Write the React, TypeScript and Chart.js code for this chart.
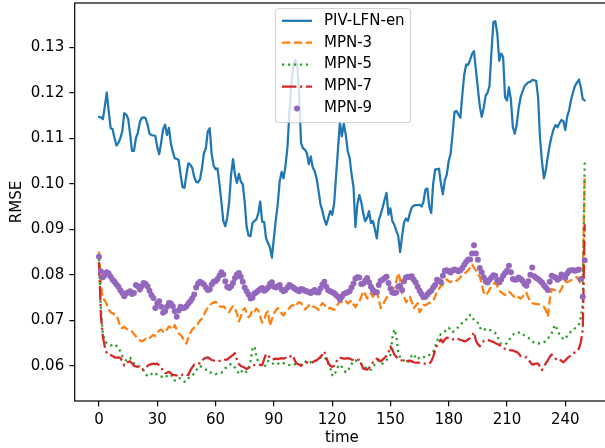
import React, { useEffect, useRef } from "react";
import { Chart, registerables } from "chart.js";

Chart.register(...registerables);

// ---- data ----
const pivLfnEn = [
  0.1147, 0.1146, 0.1142, 0.1170, 0.1200, 0.1160, 0.1122, 0.1120, 0.1100, 0.1084,
  0.1090, 0.1100, 0.1115, 0.1155, 0.1152, 0.1143, 0.1110, 0.1072, 0.1072, 0.1100,
  0.1112, 0.1135, 0.1145, 0.1146, 0.1144, 0.1130, 0.1110, 0.1107, 0.1106, 0.1105,
  0.1080, 0.1065, 0.1090, 0.1120, 0.1130, 0.1107, 0.1123, 0.1089, 0.1070, 0.1056,
  0.1055, 0.1052, 0.1020, 0.0993, 0.0991, 0.1020, 0.1045, 0.1042, 0.1035, 0.1015,
  0.1004, 0.1003, 0.1010, 0.1034, 0.1067, 0.1078, 0.1115, 0.1122, 0.1065, 0.1040,
  0.1032, 0.1034, 0.1000, 0.0960, 0.0918, 0.0907, 0.0925, 0.0960, 0.1020, 0.1054,
  0.1020, 0.1002, 0.1022, 0.1005, 0.0999, 0.0960, 0.0905, 0.0886, 0.0885, 0.0914,
  0.0918, 0.0922, 0.0935, 0.0961, 0.0917, 0.0916, 0.0880, 0.0870, 0.0860, 0.0838,
  0.0880, 0.0920, 0.0955, 0.1005, 0.1026, 0.1012, 0.1040, 0.1080, 0.1155, 0.1220,
  0.1258, 0.1272, 0.1262, 0.1200, 0.1090, 0.1078, 0.1075, 0.1068, 0.1043, 0.1060,
  0.1036, 0.1028, 0.1012, 0.0985, 0.0955, 0.0940, 0.0922, 0.0910, 0.0925, 0.0940,
  0.0932, 0.0955, 0.1015, 0.1075, 0.1135, 0.1104, 0.1132, 0.1108, 0.1072, 0.1057,
  0.1021, 0.0993, 0.0905, 0.0955, 0.0975, 0.0960, 0.0935, 0.0918, 0.0925, 0.0940,
  0.0914, 0.0918, 0.0900, 0.0880, 0.0920, 0.0933, 0.0948, 0.0965, 0.0980, 0.0932,
  0.0946, 0.0918, 0.0910, 0.0897, 0.0886, 0.0850, 0.0885, 0.0915, 0.0924, 0.0918,
  0.0935, 0.0948, 0.0952, 0.0953, 0.0953, 0.0954, 0.0950, 0.0960, 0.0987, 0.0990,
  0.0950, 0.0936, 0.1000, 0.1031, 0.1032, 0.1033, 0.1000, 0.0977, 0.1008, 0.1020,
  0.1050, 0.1066, 0.1110, 0.1158, 0.1160, 0.1152, 0.1145, 0.1195, 0.1240, 0.1262,
  0.1261, 0.1272, 0.1285, 0.1291, 0.1250, 0.1210, 0.1170, 0.1147, 0.1166, 0.1193,
  0.1200, 0.1215, 0.1290, 0.1355, 0.1357, 0.1330, 0.1270, 0.1286, 0.1279, 0.1190,
  0.1183, 0.1212, 0.1185, 0.1125, 0.1110, 0.1130, 0.1166, 0.1190, 0.1203, 0.1214,
  0.1219, 0.1223, 0.1224, 0.1228, 0.1227, 0.1226, 0.1190, 0.1100, 0.1049, 0.1012,
  0.1030, 0.1060, 0.1085, 0.1105, 0.1120, 0.1129, 0.1124, 0.1133, 0.1140, 0.1138,
  0.1118, 0.1148, 0.1162, 0.1185, 0.1201, 0.1215, 0.1222, 0.1229, 0.1212, 0.1186,
  0.1183,
];

const mpn3 = [
  0.0851, 0.0775, 0.0748, 0.0744, 0.0735, 0.0724, 0.0718, 0.0716, 0.0713, 0.0712,
  0.0700, 0.0684, 0.0683, 0.0686, 0.0682, 0.0680, 0.0678, 0.0676, 0.0670, 0.0665,
  0.0661, 0.0657, 0.0654, 0.0656, 0.0660, 0.0658, 0.0661, 0.0665, 0.0668, 0.0666,
  0.0672, 0.0678, 0.0680, 0.0675, 0.0673, 0.0680, 0.0687, 0.0684, 0.0680, 0.0690,
  0.0680, 0.0672, 0.0668, 0.0662, 0.0655, 0.0649, 0.0662, 0.0672, 0.0680, 0.0684,
  0.0687, 0.0693, 0.0700, 0.0704, 0.0712, 0.0722, 0.0727, 0.0733, 0.0737, 0.0739,
  0.0741, 0.0738, 0.0732, 0.0729, 0.0731, 0.0727, 0.0722, 0.0718, 0.0726, 0.0731,
  0.0726, 0.0715, 0.0698, 0.0708, 0.0722, 0.0727, 0.0717, 0.0707, 0.0712, 0.0723,
  0.0720, 0.0726, 0.0722, 0.0708, 0.0695, 0.0700, 0.0715, 0.0720, 0.0688, 0.0702,
  0.0715, 0.0722, 0.0727, 0.0723, 0.0715, 0.0711, 0.0718, 0.0724, 0.0727, 0.0732,
  0.0734, 0.0730, 0.0736, 0.0740, 0.0738, 0.0730, 0.0724, 0.0728, 0.0733, 0.0736,
  0.0731, 0.0729, 0.0727, 0.0723, 0.0732, 0.0738, 0.0734, 0.0728, 0.0725, 0.0728,
  0.0725, 0.0723, 0.0728, 0.0736, 0.0742, 0.0740, 0.0738, 0.0742, 0.0737, 0.0740,
  0.0744, 0.0735, 0.0729, 0.0738, 0.0742, 0.0752, 0.0764, 0.0758, 0.0748, 0.0755,
  0.0760, 0.0752, 0.0760, 0.0765, 0.0745, 0.0727, 0.0733, 0.0742, 0.0750, 0.0754,
  0.0760, 0.0766, 0.0772, 0.0785, 0.0804, 0.0790, 0.0760, 0.0752, 0.0740, 0.0745,
  0.0752, 0.0740, 0.0727, 0.0732, 0.0738, 0.0718, 0.0725, 0.0734, 0.0733, 0.0736,
  0.0738, 0.0741, 0.0743, 0.0752, 0.0765, 0.0770, 0.0776, 0.0778, 0.0785, 0.0790,
  0.0786, 0.0784, 0.0787, 0.0785, 0.0787, 0.0790, 0.0795, 0.0799, 0.0802, 0.0806,
  0.0810, 0.0816, 0.0823, 0.0816, 0.0810, 0.0802, 0.0796, 0.0780, 0.0762, 0.0755,
  0.0760, 0.0768, 0.0775, 0.0780, 0.0783, 0.0775, 0.0765, 0.0762, 0.0758, 0.0756,
  0.0760, 0.0763, 0.0760, 0.0754, 0.0752, 0.0755, 0.0750, 0.0748, 0.0752, 0.0758,
  0.0761, 0.0750, 0.0742, 0.0738, 0.0737, 0.0736, 0.0736, 0.0734, 0.0731, 0.0730,
  0.0722, 0.0708, 0.0745, 0.0769, 0.0767, 0.0766, 0.0765, 0.0762, 0.0769, 0.0778,
  0.0785, 0.0784, 0.0786, 0.0788, 0.0790, 0.0793, 0.0795, 0.0788, 0.0780, 0.0787,
  0.1020,
];

const mpn5 = [
  0.0835, 0.0720, 0.0672, 0.0655, 0.0650, 0.0647, 0.0645, 0.0646, 0.0648, 0.0644,
  0.0640, 0.0632, 0.0622, 0.0614, 0.0612, 0.0616, 0.0618, 0.0612, 0.0606, 0.0602,
  0.0600, 0.0598, 0.0593, 0.0590, 0.0582, 0.0578, 0.0578, 0.0582, 0.0586, 0.0584,
  0.0580, 0.0578, 0.0577, 0.0575, 0.0574, 0.0578, 0.0582, 0.0580, 0.0574, 0.0568,
  0.0570, 0.0574, 0.0572, 0.0568, 0.0565, 0.0567, 0.0573, 0.0576, 0.0578, 0.0584,
  0.0590, 0.0596, 0.0600, 0.0597, 0.0594, 0.0592, 0.0588, 0.0585, 0.0586, 0.0585,
  0.0582, 0.0583, 0.0585, 0.0585, 0.0589, 0.0595, 0.0598, 0.0602, 0.0604, 0.0603,
  0.0596, 0.0589, 0.0584, 0.0590, 0.0586, 0.0583, 0.0588, 0.0592, 0.0610, 0.0638,
  0.0643, 0.0622, 0.0608, 0.0604, 0.0599, 0.0597, 0.0604, 0.0611, 0.0607, 0.0604,
  0.0606, 0.0608, 0.0606, 0.0603, 0.0604, 0.0606, 0.0605, 0.0604, 0.0602, 0.0601,
  0.0603, 0.0604, 0.0603, 0.0601, 0.0603, 0.0605, 0.0608, 0.0612, 0.0611, 0.0608,
  0.0607, 0.0610, 0.0613, 0.0614, 0.0618, 0.0621, 0.0619, 0.0614, 0.0605, 0.0596,
  0.0580, 0.0578, 0.0589, 0.0598, 0.0603, 0.0598, 0.0592, 0.0586, 0.0588, 0.0597,
  0.0604, 0.0612, 0.0612, 0.0610, 0.0607, 0.0605, 0.0601, 0.0597, 0.0594, 0.0591,
  0.0592, 0.0598, 0.0604, 0.0608, 0.0613, 0.0610, 0.0605, 0.0608, 0.0613, 0.0618,
  0.0624, 0.0662, 0.0680, 0.0668, 0.0630, 0.0618, 0.0614, 0.0612, 0.0609, 0.0607,
  0.0614, 0.0623, 0.0626, 0.0618, 0.0614, 0.0619, 0.0621, 0.0620, 0.0619, 0.0621,
  0.0624, 0.0627, 0.0630, 0.0642, 0.0655, 0.0664, 0.0670, 0.0672, 0.0676, 0.0680,
  0.0684, 0.0679, 0.0674, 0.0678, 0.0683, 0.0685, 0.0690, 0.0695, 0.0698, 0.0702,
  0.0704, 0.0712, 0.0710, 0.0700, 0.0697, 0.0695, 0.0685, 0.0678, 0.0679, 0.0681,
  0.0682, 0.0679, 0.0678, 0.0676, 0.0672, 0.0667, 0.0655, 0.0648, 0.0647, 0.0648,
  0.0650, 0.0656, 0.0663, 0.0668, 0.0672, 0.0672, 0.0673, 0.0674, 0.0670, 0.0667,
  0.0665, 0.0662, 0.0657, 0.0654, 0.0651, 0.0650, 0.0649, 0.0650, 0.0650, 0.0652,
  0.0655, 0.0660, 0.0665, 0.0672, 0.0684, 0.0690, 0.0676, 0.0670, 0.0666, 0.0658,
  0.0660, 0.0666, 0.0671, 0.0676, 0.0678, 0.0683, 0.0686, 0.0691, 0.0706, 0.0736,
  0.1049,
];

const mpn7 = [
  0.0828, 0.0710, 0.0664, 0.0642, 0.0628, 0.0625, 0.0624, 0.0622, 0.0619, 0.0618,
  0.0619, 0.0618, 0.0610, 0.0601, 0.0606, 0.0609, 0.0610, 0.0606, 0.0600, 0.0599,
  0.0598, 0.0596, 0.0593, 0.0592, 0.0595, 0.0600, 0.0603, 0.0604, 0.0605, 0.0604,
  0.0605, 0.0601, 0.0596, 0.0590, 0.0584, 0.0585, 0.0587, 0.0584, 0.0580, 0.0580,
  0.0579, 0.0578, 0.0578, 0.0581, 0.0582, 0.0581, 0.0580, 0.0590, 0.0597, 0.0603,
  0.0605, 0.0605, 0.0606, 0.0611, 0.0616, 0.0618, 0.0619, 0.0616, 0.0613, 0.0612,
  0.0611, 0.0610, 0.0611, 0.0611, 0.0612, 0.0614, 0.0614, 0.0618, 0.0621, 0.0624,
  0.0628, 0.0614, 0.0604, 0.0600, 0.0598, 0.0596, 0.0593, 0.0596, 0.0600, 0.0601,
  0.0602, 0.0603, 0.0603, 0.0602, 0.0602, 0.0615, 0.0626, 0.0624, 0.0618, 0.0614,
  0.0615, 0.0616, 0.0615, 0.0616, 0.0617, 0.0616, 0.0618, 0.0619, 0.0618, 0.0624,
  0.0620, 0.0610, 0.0605, 0.0603, 0.0600, 0.0604, 0.0607, 0.0608, 0.0607, 0.0607,
  0.0608, 0.0611, 0.0612, 0.0616, 0.0620, 0.0625, 0.0632, 0.0618, 0.0607, 0.0601,
  0.0598, 0.0600, 0.0608, 0.0616, 0.0618, 0.0617, 0.0616, 0.0616, 0.0617, 0.0616,
  0.0614, 0.0613, 0.0612, 0.0613, 0.0614, 0.0604, 0.0594, 0.0593, 0.0592, 0.0596,
  0.0601, 0.0608, 0.0613, 0.0616, 0.0613, 0.0610, 0.0614, 0.0618, 0.0622, 0.0630,
  0.0643, 0.0636, 0.0625, 0.0620, 0.0616, 0.0613, 0.0612, 0.0611, 0.0610, 0.0611,
  0.0612, 0.0610, 0.0608, 0.0607, 0.0607, 0.0607, 0.0606, 0.0605, 0.0605, 0.0605,
  0.0605, 0.0610, 0.0620, 0.0635, 0.0645, 0.0652, 0.0658, 0.0652, 0.0658, 0.0662,
  0.0661, 0.0659, 0.0658, 0.0660, 0.0661, 0.0659, 0.0657, 0.0656, 0.0654, 0.0655,
  0.0658, 0.0661, 0.0666, 0.0674, 0.0656, 0.0648, 0.0643, 0.0648, 0.0655, 0.0656,
  0.0657, 0.0656, 0.0654, 0.0653, 0.0650, 0.0648, 0.0646, 0.0643, 0.0640, 0.0637,
  0.0635, 0.0635, 0.0634, 0.0634, 0.0632, 0.0631, 0.0627, 0.0622, 0.0620, 0.0619,
  0.0619, 0.0614, 0.0608, 0.0603, 0.0604, 0.0605, 0.0605, 0.0598, 0.0591, 0.0598,
  0.0606, 0.0612, 0.0620, 0.0625, 0.0621, 0.0616, 0.0613, 0.0615, 0.0611, 0.0608,
  0.0612, 0.0617, 0.0620, 0.0624, 0.0627, 0.0630, 0.0632, 0.0638, 0.0652, 0.0680,
  0.0911,
];

const mpn9 = [
  0.0840, 0.0808, 0.0795, 0.0799, 0.0806, 0.0803, 0.0796, 0.0789, 0.0785, 0.0779,
  0.0774, 0.0766, 0.0760, 0.0753, 0.0759, 0.0762, 0.0764, 0.0758, 0.0760, 0.0778,
  0.0775, 0.0768, 0.0775, 0.0782, 0.0780, 0.0775, 0.0765, 0.0756, 0.0749, 0.0727,
  0.0738, 0.0742, 0.0730, 0.0717, 0.0720, 0.0730, 0.0738, 0.0737, 0.0731, 0.0720,
  0.0708, 0.0722, 0.0730, 0.0727, 0.0728, 0.0731, 0.0737, 0.0742, 0.0748, 0.0757,
  0.0772, 0.0781, 0.0785, 0.0782, 0.0779, 0.0772, 0.0767, 0.0768, 0.0779, 0.0785,
  0.0786, 0.0791, 0.0798, 0.0806, 0.0801, 0.0786, 0.0774, 0.0771, 0.0775, 0.0782,
  0.0793, 0.0801, 0.0804, 0.0796, 0.0785, 0.0772, 0.0764, 0.0757, 0.0748, 0.0750,
  0.0759, 0.0762, 0.0765, 0.0769, 0.0771, 0.0765, 0.0768, 0.0772, 0.0780, 0.0784,
  0.0774, 0.0772, 0.0775, 0.0778, 0.0768, 0.0764, 0.0767, 0.0772, 0.0778, 0.0775,
  0.0772, 0.0769, 0.0766, 0.0764, 0.0769, 0.0768, 0.0765, 0.0764, 0.0762, 0.0760,
  0.0764, 0.0767, 0.0762, 0.0761, 0.0770, 0.0779, 0.0785, 0.0774, 0.0766, 0.0764,
  0.0762, 0.0760, 0.0756, 0.0752, 0.0746, 0.0752, 0.0758, 0.0760, 0.0762, 0.0764,
  0.0772, 0.0781, 0.0792, 0.0795, 0.0794, 0.0780, 0.0781, 0.0787, 0.0793, 0.0784,
  0.0774, 0.0767, 0.0762, 0.0762, 0.0778, 0.0787, 0.0789, 0.0793, 0.0796, 0.0782,
  0.0770, 0.0761, 0.0760, 0.0761, 0.0774, 0.0776, 0.0767, 0.0786, 0.0794, 0.0796,
  0.0795, 0.0797, 0.0789, 0.0783, 0.0774, 0.0765, 0.0758, 0.0751, 0.0752, 0.0757,
  0.0762, 0.0765, 0.0772, 0.0778, 0.0789, 0.0787, 0.0784, 0.0798, 0.0809, 0.0810,
  0.0808, 0.0805, 0.0810, 0.0812, 0.0810, 0.0808, 0.0810, 0.0815, 0.0822, 0.0829,
  0.0834, 0.0834, 0.0847, 0.0865, 0.0847, 0.0833, 0.0815, 0.0806, 0.0795, 0.0786,
  0.0783, 0.0789, 0.0794, 0.0799, 0.0798, 0.0788, 0.0783, 0.0790, 0.0798, 0.0804,
  0.0809, 0.0820, 0.0806, 0.0791, 0.0789, 0.0790, 0.0794, 0.0791, 0.0787, 0.0780,
  0.0776, 0.0786, 0.0800, 0.0816, 0.0797, 0.0793, 0.0791, 0.0787, 0.0783, 0.0777,
  0.0772, 0.0767, 0.0785, 0.0798, 0.0796, 0.0794, 0.0789, 0.0792, 0.0801, 0.0797,
  0.0793, 0.0803, 0.0809, 0.0810, 0.0810, 0.0809, 0.0810, 0.0812, 0.0791, 0.0752,
  0.0832,
];

const timeSteps = pivLfnEn.map((_, i) => i);
const xTicks = [0, 30, 60, 90, 120, 150, 180, 210, 240];
const yTicks = [0.06, 0.07, 0.08, 0.09, 0.1, 0.11, 0.12, 0.13];
const seriesLabels = ["PIV-LFN-en", "MPN-3", "MPN-5", "MPN-7", "MPN-9"];

const FONT_FAMILY = "'DejaVu Sans', sans-serif";
const FONT_SIZE = 15;

const toXY = (arr: number[]) => arr.map((v, i) => ({ x: timeSteps[i], y: v }));

const framePlugin = {
  id: "frame",
  afterDatasetsDraw(chart: any) {
    const { ctx, chartArea } = chart;
    ctx.save();
    ctx.strokeStyle = "#000";
    ctx.lineWidth = 1.2;
    ctx.strokeRect(chartArea.left, chartArea.top, chartArea.right - chartArea.left, chartArea.bottom - chartArea.top);
    ctx.restore();
  },
};

const legendPlugin = {
  id: "mplLegend",
  afterDraw(chart: any) {
    const ctx = chart.ctx;
    ctx.save();
    const x0 = 275.5, y0 = 8.5, w = 135, h = 114;
    ctx.beginPath();
    if (ctx.roundRect) ctx.roundRect(x0, y0, w, h, 3);
    else ctx.rect(x0, y0, w, h);
    ctx.fillStyle = "rgba(255,255,255,0.8)";
    ctx.fill();
    ctx.strokeStyle = "rgba(204,204,204,0.8)";
    ctx.lineWidth = 1.2;
    ctx.stroke();
    chart.data.datasets.forEach((ds: any, i: number) => {
      const cy = 20.8 + i * 21.9;
      if (ds.showLine === false) {
        ctx.beginPath();
        ctx.arc(297, cy, 3, 0, Math.PI * 2);
        ctx.fillStyle = ds.pointBackgroundColor;
        ctx.fill();
      } else {
        ctx.beginPath();
        ctx.setLineDash(ds.borderDash || []);
        ctx.strokeStyle = ds.borderColor;
        ctx.lineWidth = ds.borderWidth;
        ctx.lineCap = "butt";
        ctx.moveTo(282, cy);
        ctx.lineTo(312, cy);
        ctx.stroke();
        ctx.setLineDash([]);
      }
      ctx.fillStyle = "#000";
      ctx.font = `${FONT_SIZE}px ${FONT_FAMILY}`;
      ctx.textBaseline = "middle";
      ctx.textAlign = "left";
      ctx.fillText(ds.label, 324, cy);
    });
    ctx.restore();
  },
};

export default function App() {
  const canvasRef = useRef<HTMLCanvasElement | null>(null);

  useEffect(() => {
    if (!canvasRef.current) return;
    const font = { family: FONT_FAMILY, size: FONT_SIZE };
    const lineCommon = {
      pointRadius: 0,
      pointHoverRadius: 0,
      borderWidth: 2.25,
      tension: 0,
      fill: false,
      borderJoinStyle: "round",
    };
    const chart = new Chart(canvasRef.current, {
      type: "line",
      data: {
        datasets: [
          { ...lineCommon, label: seriesLabels[0], data: toXY(pivLfnEn), borderColor: "#1f77b4", order: 4, borderCapStyle: "round" },
          { ...lineCommon, label: seriesLabels[1], data: toXY(mpn3), borderColor: "#ff7f0e", borderDash: [8.33, 3.6], order: 3 },
          { ...lineCommon, label: seriesLabels[2], data: toXY(mpn5), borderColor: "#2ca02c", borderDash: [2.25, 3.71], order: 2 },
          { ...lineCommon, label: seriesLabels[3], data: toXY(mpn7), borderColor: "#d62728", borderDash: [14.4, 3.6, 2.25, 3.6], order: 1 },
          {
            label: seriesLabels[4],
            data: toXY(mpn9),
            showLine: false,
            pointRadius: 3,
            pointHoverRadius: 3,
            pointBorderWidth: 0,
            pointBackgroundColor: "#9467bd",
            borderColor: "rgba(0,0,0,0)",
            backgroundColor: "#9467bd",
            order: 0,
          },
        ] as any,
      },
      options: {
        responsive: false,
        maintainAspectRatio: false,
        animation: false,
        devicePixelRatio: 1,
        events: [],
        layout: { padding: { left: 0, top: 1, right: 11, bottom: 0 } },
        plugins: { legend: { display: false }, tooltip: { enabled: false } },
        scales: {
          x: {
            type: "linear",
            min: -12.5,
            max: 262.5,
            afterBuildTicks: (s: any) => {
              s.ticks = xTicks.map((v) => ({ value: v }));
            },
            afterFit: (s: any) => {
              s.height = 47;
              s.paddingLeft = 0;
              s.paddingRight = 0;
            },
            grid: { display: true, drawOnChartArea: false, drawTicks: true, tickLength: 5.25, tickColor: "#000", lineWidth: 1.2 },
            border: { display: false },
            ticks: {
              color: "#000",
              font,
              padding: 5.25,
              maxRotation: 0,
              autoSkip: false,
              callback: (v: any) => String(v),
            },
            title: { display: true, text: "time", color: "#000", font, padding: { top: 0, bottom: 1 } },
          },
          y: {
            type: "linear",
            min: 0.0523,
            max: 0.1397,
            afterBuildTicks: (s: any) => {
              s.ticks = yTicks.map((v) => ({ value: v }));
            },
            afterFit: (s: any) => {
              s.width = 74.7;
              s.paddingTop = 0;
              s.paddingBottom = 0;
            },
            grid: { display: true, drawOnChartArea: false, drawTicks: true, tickLength: 5.25, tickColor: "#000", lineWidth: 1.2 },
            border: { display: false },
            ticks: {
              color: "#000",
              font,
              padding: 5.25,
              autoSkip: false,
              callback: (v: any) => Number(v).toFixed(2),
            },
            title: { display: true, text: "RMSE", color: "#000", font, padding: { top: 8.5, bottom: 0 } },
          },
        },
      } as any,
      plugins: [framePlugin, legendPlugin],
    });
    return () => chart.destroy();
  }, []);

  return (
    <div style={{ position: "fixed", left: 0, top: 0, width: 605, height: 448, overflow: "hidden", background: "#fff" }}>
      <canvas ref={canvasRef} width={620} height={448} style={{ display: "block" }} />
    </div>
  );
}
